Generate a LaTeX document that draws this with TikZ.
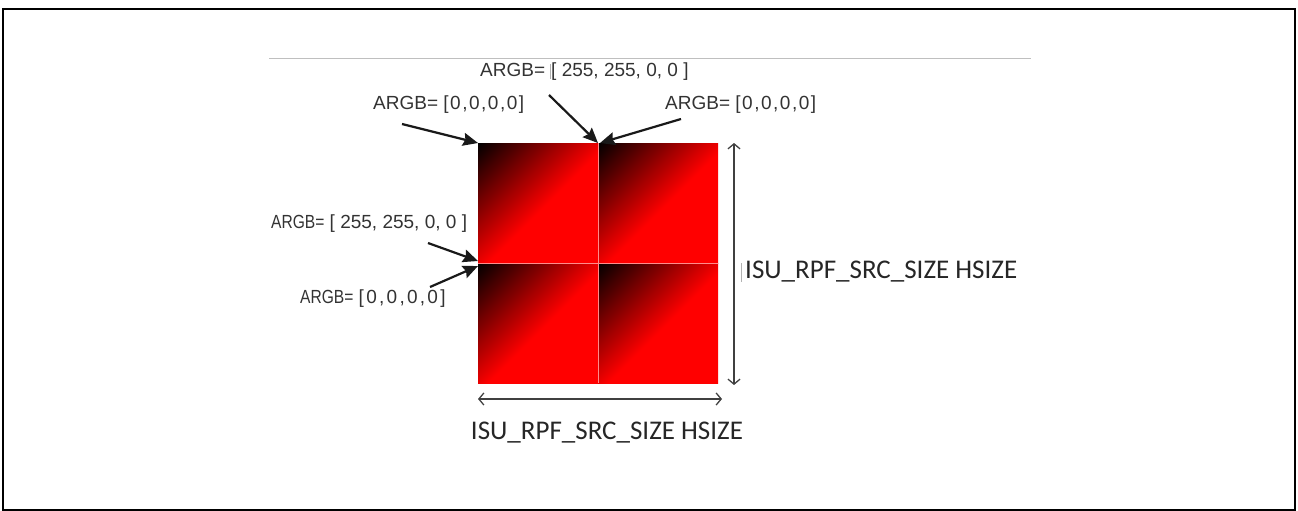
\documentclass[tikz,border=0pt]{standalone}
\usepackage{fontspec}
\setmainfont{Liberation Sans}
\newfontfamily\calib{Carlito}
\usetikzlibrary{arrows.meta}
\newcommand\gradsq[2]{%
  \begin{scope}
    \clip (#1,#2) rectangle ++(120,120);
    \fill[red] (#1,#2) rectangle ++(120,120);
    \begin{scope}[transform canvas={shift={(#1,#2)}, rotate=-45}]
      \shade[left color=black, right color=red, middle color=red] (0,-150) rectangle (184,150);
    \end{scope}
  \end{scope}}
\newcommand\cursorbar{{\color{black!30}\rule[-2pt]{0.8pt}{15pt}}}
\begin{document}
\begin{tikzpicture}[x=1pt,y=-1pt,
  lead/.style={line width=2.2pt, draw=black!90, -{Stealth[length=15pt,width=13pt,inset=2pt]}},
  dimarrow/.style={line width=1.3pt, draw=black!75, {Straight Barb[length=5pt,width=12pt]}-{Straight Barb[length=5pt,width=12pt]}},
  argb/.style={font=\fontsize{19}{21}\selectfont, text=black!80, inner sep=0pt},
  dimlabel/.style={font=\calib\fontsize{27}{31}\selectfont, text=black!85, inner sep=0pt},
  quadline/.style={draw=red!45!white, line width=0.8pt}]
\useasboundingbox (0,0) rectangle (1298,511);
\draw[line width=2.5pt] (3,9) rectangle (1295,510);
\draw[black!25, line width=1pt] (269,59) -- (1031,59);

% gradient quadrants
\gradsq{478}{143}
\gradsq{598}{143}
\gradsq{478}{263}
\gradsq{598}{263}
\draw[quadline] (598,143) -- (598,383);
\draw[quadline] (478,263) -- (718,263);

% corner points
\coordinate (tl) at (478,143);
\coordinate (tm) at (598,143);
\coordinate (tm2) at (600,143);
\coordinate (ml) at (478,261);
\coordinate (ml2) at (478,266);

% labels
\node[argb, anchor=west] (l1) at (373,105) {ARGB= {\addfontfeature{LetterSpace=8}[0,0,0,0]}};
\node[argb, anchor=west] (l2) at (480,72) {ARGB= \cursorbar[ 255, 255, 0, 0 ]};
\node[argb, anchor=west] (l3) at (665,105) {ARGB= {\addfontfeature{LetterSpace=8}[0,0,0,0]}};
\node[argb, anchor=west] (l4) at (271,224) {\scalebox{0.82}[1]{ARGB=} [ 255, 255, 0, 0 ]};
\node[argb, anchor=west] (l5) at (300,299) {\scalebox{0.82}[1]{ARGB=} {\addfontfeature{LetterSpace=12}[0,0,0,0]}};

% leader start points
\coordinate (s1) at (402,124);
\coordinate (s2) at (549,95);
\coordinate (s3) at (681,119);
\coordinate (s4) at (428,243);
\coordinate (s5) at (430,287);

\draw[lead] (s1) -- (tl);
\draw[lead] (s2) -- (tm);
\draw[lead] (s3) -- (tm2);
\draw[lead] (s4) -- (ml);
\draw[lead] (s5) -- (ml2);

% dimensions
\coordinate (vt) at (734,143);
\coordinate (vb) at (734,385);
\coordinate (hl) at (478,399);
\coordinate (hr) at (722,399);
\draw[dimarrow] (vt) -- (vb);
\draw[dimarrow] (hl) -- (hr);
\node[dimlabel] (dh) at (607,433) {ISU\_RPF\_SRC\_SIZE HSIZE};
\node[dimlabel, anchor=west] (dv) at (745,272) {ISU\_RPF\_SRC\_SIZE HSIZE};
\draw[black!30, line width=0.8pt] (741,263) -- (741,282);
\end{tikzpicture}
\end{document}
